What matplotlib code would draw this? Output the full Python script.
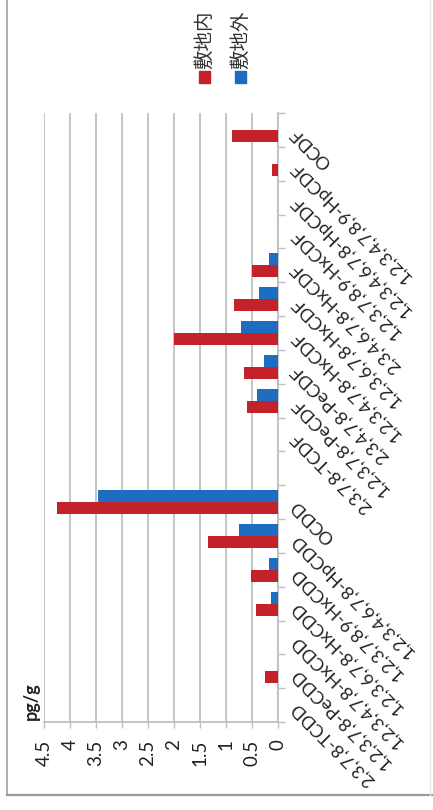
import numpy as np
import matplotlib
matplotlib.use("Agg")
import matplotlib.pyplot as plt
from matplotlib.lines import Line2D
from matplotlib.patches import Rectangle

plt.rcParams['font.family'] = ['Lato', 'Noto Sans CJK JP', 'DejaVu Sans']

categories = [
    "2,3,7,8-TCDD", "1,2,3,7,8-PeCDD", "1,2,3,4,7,8-HxCDD", "1,2,3,6,7,8-HxCDD",
    "1,2,3,7,8,9-HxCDD", "1,2,3,4,6,7,8-HpCDD", "OCDD", "",
    "2,3,7,8-TCDF", "1,2,3,7,8-PeCDF", "2,3,4,7,8-PeCDF", "1,2,3,4,7,8-HxCDF",
    "1,2,3,6,7,8-HxCDF", "2,3,4,6,7,8-HxCDF", "1,2,3,7,8,9-HxCDF",
    "1,2,3,4,6,7,8-HpCDF", "1,2,3,4,7,8,9-HpCDF", "OCDF",
]
inside = [0, 0.25, 0, 0.42, 0.52, 1.35, 4.25, 0,
          0, 0.60, 0.66, 2.0, 0.85, 0.50, 0, 0, 0.12, 0.88]
outside = [0, 0, 0, 0.13, 0.17, 0.75, 3.46, 0,
           0, 0.40, 0.27, 0.72, 0.37, 0.17, 0, 0, 0, 0]
series_names = ["敷地内", "敷地外"]
series_colors = ["#C3222B", "#1D6EC0"]
value_ticks = [0, 0.5, 1, 1.5, 2, 2.5, 3, 3.5, 4, 4.5]
value_tick_labels = ["0", "0.5", "1", "1.5", "2", "2.5", "3", "3.5", "4", "4.5"]
unit_label = "pg/g"

W, H = 433, 810
fig = plt.figure(figsize=(W / 100, H / 100), dpi=100)

# axes in pixel box: left 44, right 278, top 113, bottom 722
ax = fig.add_axes([44 / W, (H - 722) / H, (278 - 44) / W, (722 - 113) / H])

n = len(categories)
pos = np.arange(n)
bh = 0.355
ax.barh(pos - bh / 2, inside, height=bh, color=series_colors[0], zorder=3)
ax.barh(pos + bh / 2, outside, height=bh, color=series_colors[1], zorder=3)

ax.set_xlim(0, 4.5)
ax.invert_xaxis()
ax.set_ylim(-0.5, n - 0.5)

grid_c = "#bfbfbf"
ax.set_xticks(value_ticks)
ax.set_xticklabels(value_tick_labels, rotation=90, ha="center", va="top", fontsize=13.5)
ax.tick_params(axis="x", direction="out", length=4, width=1, color=grid_c, pad=8.5, colors="#222222")
ax.tick_params(axis="x", color=grid_c)
ax.xaxis.grid(True, color=grid_c, lw=1.3)
ax.set_axisbelow(True)

ax.yaxis.tick_right()
ax.set_yticks(pos)
ax.set_yticklabels(categories, rotation=135, rotation_mode="anchor",
                   ha="right", va="center", fontsize=13, color="#222222")
ax.set_yticks(np.arange(-0.5, n, 1.0), minor=True)
ax.tick_params(axis="y", which="major", length=0, pad=11)
ax.tick_params(axis="y", which="minor", direction="out", length=5, width=1, color=grid_c)

for s in ["top", "left"]:
    ax.spines[s].set_visible(False)
for s in ["right", "bottom"]:
    ax.spines[s].set_color(grid_c)
    ax.spines[s].set_linewidth(1.3)

# unit label
fig.text(31 / W, 1 - 701 / H, unit_label, rotation=90, ha="center", va="center",
         fontsize=13, fontweight="bold", color="#222222")

# legend (rotated)
leg_x = [204, 240]
for name, col, x in zip(series_names, series_colors, leg_x):
    fig.text(x / W, 1 - 40 / H, name, rotation=90, ha="center", va="center",
             fontsize=14, color="#333333")
    fig.add_artist(Rectangle(((x - 5.5) / W, 1 - 82.5 / H), 11 / W, 11 / H,
                             transform=fig.transFigure, color=col))

# outer frame
fig.add_artist(Line2D([7 / W, 7 / W], [15 / H, 1], transform=fig.transFigure,
                      color="#a8a8a8", lw=1.3))
fig.add_artist(Line2D([7 / W, 1], [15 / H, 15 / H], transform=fig.transFigure,
                      color="#9a9a9a", lw=1.6))
fig.add_artist(Line2D([430 / W, 430 / W], [15 / H, 1], transform=fig.transFigure,
                      color="#e6e6e6", lw=1.0))

fig.savefig("out.png", dpi=100)
